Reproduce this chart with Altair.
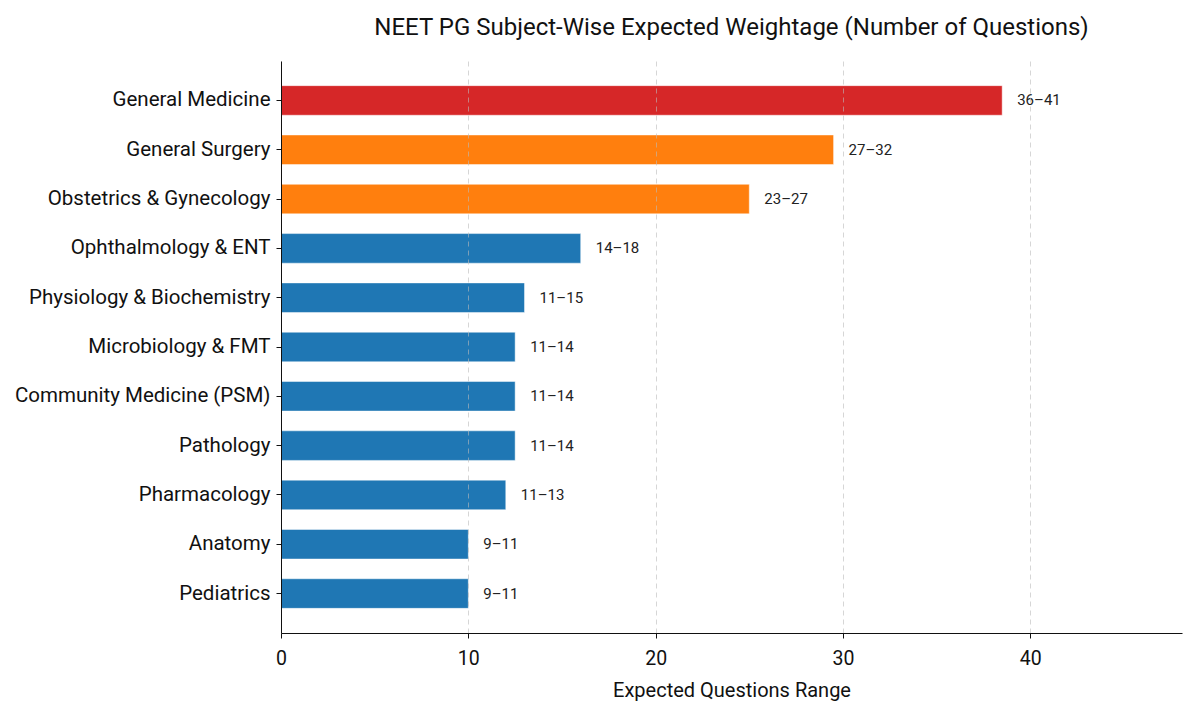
import altair as alt
import pandas as pd

subjects = ["General Medicine", "General Surgery", "Obstetrics & Gynecology",
            "Ophthalmology & ENT", "Physiology & Biochemistry", "Microbiology & FMT",
            "Community Medicine (PSM)", "Pathology", "Pharmacology", "Anatomy", "Pediatrics"]
values = [38.5, 29.5, 25, 16, 13, 12.5, 12.5, 12.5, 12, 10, 10]
ranges = ["36–41", "27–32", "23–27", "14–18", "11–15", "11–14", "11–14", "11–14",
          "11–13", "9–11", "9–11"]
tiers = ["top", "high", "high", "base", "base", "base", "base", "base", "base", "base", "base"]
x_ticks = [0, 10, 20, 30, 40]

df = pd.DataFrame({"subject": subjects, "value": values, "range": ranges, "tier": tiers})

FONT = "Roboto"

y = alt.Y("subject:N", sort=subjects, title=None,
          scale=alt.Scale(paddingInner=0.4, paddingOuter=0.5),
          axis=alt.Axis(labelFontSize=20.5, labelColor="#111", labelFont=FONT,
                        tickColor="#111", tickSize=5, labelPadding=6, labelLimit=400,
                        minExtent=268, maxExtent=268, zindex=2,
                        domainColor="#111", grid=False))
x = alt.X("value:Q", title="Expected Questions Range",
          scale=alt.Scale(domain=[0, 48.1], nice=False),
          axis=alt.Axis(values=x_ticks, labelFontSize=19.5, labelColor="#111",
                        labelFont=FONT, titleFont=FONT, titleFontSize=20, titleFontWeight="normal",
                        titleColor="#111", titlePadding=13, tickColor="#111", tickSize=5,
                        domainColor="#111", grid=True, gridColor="#bbbbbb", gridDash=[5, 4],
                        gridOpacity=0.6, zindex=1, labelPadding=11, labelFlush=False))

bars = alt.Chart(df).mark_bar(stroke="white", strokeWidth=0.8, strokeOpacity=0.6).encode(
    y=y, x=x,
    color=alt.Color("tier:N", scale=alt.Scale(domain=["top", "high", "base"],
                                              range=["#d62728", "#ff7f0e", "#1f77b4"]),
                    legend=None),
)

labels = alt.Chart(df).mark_text(align="left", baseline="middle", dx=15, fontSize=15,
                                 font=FONT, color="#222").encode(
    y=alt.Y("subject:N", sort=subjects), x="value:Q", text="range:N")

chart = (bars + labels).properties(
    width=901, height=572,
    padding={"top": 8, "left": 5, "right": 5, "bottom": 5},
    title=alt.TitleParams("NEET PG Subject-Wise Expected Weightage (Number of Questions)",
                          font=FONT, fontSize=24, fontWeight="normal", color="#111",
                          anchor="middle", offset=21),
).configure_view(stroke=None)

chart.save("out.html", embed_options={"renderer": "svg", "actions": False})
